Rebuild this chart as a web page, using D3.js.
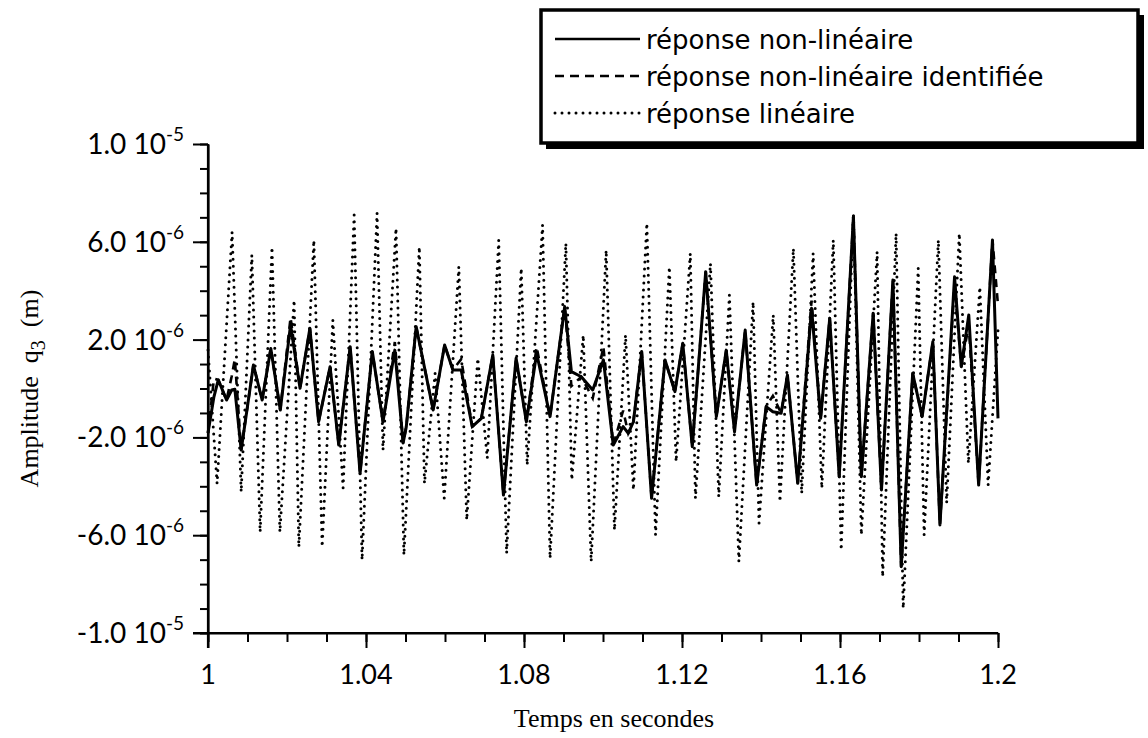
<!DOCTYPE html>
<html>
<head>
<meta charset="utf-8">
<script src="https://cdn.jsdelivr.net/npm/d3@7/dist/d3.min.js"></script>
<style>
  html, body { margin: 0; padding: 0; background: #fff; }
  svg { display: block; }
</style>
</head>
<body>
<svg id="chart" width="1148" height="738"></svg>
<script>
// Time axis (s) and amplitudes of q3, amplitudes in micrometres (1e-6 m)

// linear response: turning points
const tLin = [1.0000, 1.0023, 1.0061, 1.0084, 1.0111, 1.0132, 1.0162, 1.0182, 1.0218, 1.0230,
  1.0268, 1.0289, 1.0316, 1.0342, 1.0370, 1.0390, 1.0428, 1.0443, 1.0476, 1.0496,
  1.0535, 1.0548, 1.0575, 1.0598, 1.0635, 1.0655, 1.0683, 1.0707, 1.0736, 1.0756,
  1.0793, 1.0808, 1.0847, 1.0866, 1.0906, 1.0921, 1.0950, 1.0970, 1.1008, 1.1029,
  1.1057, 1.1077, 1.1111, 1.1133, 1.1168, 1.1185, 1.1221, 1.1234, 1.1272, 1.1293,
  1.1320, 1.1344, 1.1380, 1.1395, 1.1431, 1.1448, 1.1482, 1.1503, 1.1532, 1.1554,
  1.1583, 1.1603, 1.1634, 1.1654, 1.1694, 1.1708, 1.1742, 1.1760, 1.1798, 1.1813,
  1.1849, 1.1870, 1.1902, 1.1925, 1.1954, 1.1975, 1.2000];
const qLin = [1.57, -3.89, 6.40, -4.23, 5.46, -5.87, 5.79, -5.87, 3.62, -6.48,
  6.07, -6.48, 2.80, -4.07, 7.10, -7.01, 7.18, -2.52, 6.56, -6.81,
  5.80, -3.88, 0.63, -4.49, 4.98, -5.38, 1.24, -2.85, 6.07, -6.74,
  4.92, -3.13, 6.69, -6.94, 5.94, -3.74, 2.19, -7.08, 5.66, -5.79,
  2.19, -4.15, 6.76, -5.99, 4.98, -2.99, 5.53, -4.49, 5.12, -4.43,
  3.82, -7.08, 3.55, -5.51, 3.01, -4.63, 5.73, -4.29, 5.53, -4.08,
  6.07, -6.61, 7.17, -5.99, 5.60, -7.70, 6.35, -8.99, 4.92, -5.99,
  6.07, -4.68, 6.35, -3.06, 4.16, -3.95, 2.39];

// non-linear response (and its identified model) share the same time samples
const tNl = [1.0000, 1.0015, 1.0026, 1.0047, 1.0060, 1.0068, 1.0084, 1.0115, 1.0137, 1.0159,
  1.0183, 1.0209, 1.0233, 1.0258, 1.0280, 1.0309, 1.0331, 1.0360, 1.0385, 1.0416,
  1.0443, 1.0473, 1.0494, 1.0502, 1.0527, 1.0570, 1.0599, 1.0620, 1.0641, 1.0669,
  1.0692, 1.0721, 1.0748, 1.0780, 1.0806, 1.0832, 1.0866, 1.0903, 1.0920, 1.0945,
  1.0974, 1.1001, 1.1026, 1.1051, 1.1064, 1.1077, 1.1098, 1.1123, 1.1157, 1.1182,
  1.1202, 1.1226, 1.1260, 1.1287, 1.1312, 1.1333, 1.1360, 1.1389, 1.1413, 1.1430,
  1.1451, 1.1467, 1.1493, 1.1528, 1.1551, 1.1574, 1.1598, 1.1634, 1.1654, 1.1684,
  1.1705, 1.1734, 1.1755, 1.1784, 1.1808, 1.1835, 1.1853, 1.1890, 1.1907, 1.1926,
  1.1951, 1.1986, 1.2000];
const qNl = [-1.82, -0.34, 0.35, -0.47, -0.06, -0.03, -2.52, 0.96, -0.47, 1.64,
  -0.88, 2.60, 0.01, 2.46, -1.36, 0.89, -2.31, 1.71, -3.47, 1.51,
  -1.36, 1.57, -2.23, -1.56, 2.53, -0.88, 1.78, 0.76, 0.76, -1.56,
  -1.22, 1.37, -4.36, 1.24, -1.36, 1.44, -1.15, 3.35, 0.69, 0.48,
  -0.06, 1.17, -2.31, -1.56, -1.83, -1.36, 1.51, -4.49, 1.17, -0.13,
  1.85, -2.38, 4.78, -1.15, 1.57, -1.77, 2.39, -3.95, -0.74, -0.95,
  -1.01, 0.55, -3.88, 3.28, -1.22, 2.87, -3.61, 7.03, -3.61, 3.08,
  -4.15, 4.44, -7.29, 0.62, -1.15, 1.91, -5.58, 4.57, 0.89, 3.01,
  -3.95, 6.07, -1.22];
const qId = [-1.82, 0.40, 0.35, -0.47, 0.50, 1.20, -2.52, 0.96, -0.47, 1.64,
  -0.88, 2.90, 0.01, 2.46, -1.36, 0.89, -2.31, 1.71, -3.47, 1.51,
  -1.36, 1.90, -2.23, -1.56, 2.53, -0.88, 1.78, 0.76, 1.20, -1.56,
  -1.22, 1.37, -4.36, 1.24, -1.36, 1.70, -1.15, 3.35, 0.10, 0.48,
  -0.40, 1.70, -2.31, -0.90, -1.83, -1.36, 1.51, -4.49, 1.17, -0.13,
  1.85, -2.38, 4.78, -1.15, 1.57, -1.77, 2.39, -3.95, -0.74, -0.30,
  -1.01, 0.55, -3.88, 3.60, -1.22, 2.87, -3.61, 7.03, -3.61, 3.08,
  -4.15, 4.44, -7.29, 0.62, -1.15, 1.91, -5.58, 4.30, 0.89, 2.60,
  -3.95, 6.07, 3.40];

// axis ticks
const xTickValues = [1, 1.04, 1.08, 1.12, 1.16, 1.2];
const xTickLabels = ["1", "1.04", "1.08", "1.12", "1.16", "1.2"];
const yTickValues = [-10, -6, -2, 2, 6, 10];
const yTickMantissa = ["-1.0", "-6.0", "-2.0", "2.0", "6.0", "1.0"];
const yTickExponent = ["-5", "-6", "-6", "-6", "-6", "-5"];

const seriesNames = ["réponse non-linéaire", "réponse non-linéaire identifiée", "réponse linéaire"];

const svg = d3.select("#chart");
const x = d3.scaleLinear().domain([1, 1.2]).range([208, 998]);
const y = d3.scaleLinear().domain([-10, 10]).range([633, 144]);

const sans = "Lato, 'Open Sans', sans-serif";
const legendFont = "'DejaVu Sans', Lato, sans-serif";
const serif = "'Liberation Serif', 'DejaVu Serif', serif";

// ---- series ----
const line = d3.line().x(d => x(d[0])).y(d => y(d[1]));
const plot = svg.append("g").attr("fill", "none").attr("stroke", "#000");

plot.append("path")
  .attr("d", line(d3.zip(tLin, qLin)))
  .attr("stroke-width", 3)
  .attr("stroke-linecap", "round")
  .attr("stroke-dasharray", "0,7");

plot.append("path")
  .attr("d", line(d3.zip(tNl, qId)))
  .attr("stroke-width", 2.6)
  .attr("stroke-dasharray", "8,6");

plot.append("path")
  .attr("d", line(d3.zip(tNl, qNl)))
  .attr("stroke-width", 3)
  .attr("stroke-linejoin", "round");

// ---- axes ----
const styleAxis = g => {
  g.select(".domain").attr("stroke", "#000").attr("stroke-width", 2.2);
  g.selectAll(".tick line").attr("stroke", "#000").attr("stroke-width", 2);
};

const xMinor = d3.range(0, 21).map(i => 1 + i * 0.01);
svg.append("g").attr("transform", `translate(0,${y(-10)})`)
  .call(d3.axisBottom(x).tickValues(xMinor).tickSize(9).tickSizeOuter(0).tickFormat(""))
  .call(styleAxis);
svg.append("g").attr("transform", `translate(0,${y(-10)})`)
  .call(d3.axisBottom(x).tickValues(xTickValues).tickSize(15).tickSizeOuter(0).tickFormat(""))
  .call(styleAxis)
  .call(g => g.select(".domain").attr("d", `M${x(1) - 15},0H${x(1.2)}`));

const yMinor = d3.range(-10, 11);
svg.append("g").attr("transform", `translate(${x(1)},0)`)
  .call(d3.axisLeft(y).tickValues(yMinor).tickSize(8).tickSizeOuter(0).tickFormat(""))
  .call(styleAxis);
svg.append("g").attr("transform", `translate(${x(1)},0)`)
  .call(d3.axisLeft(y).tickValues(yTickValues).tickSize(15).tickSizeOuter(0).tickFormat(""))
  .call(styleAxis)
  .call(g => g.select(".domain").attr("d", `M0,${y(10)}V${y(-10) + 15}`));

// x tick labels
svg.append("g").selectAll("text").data(xTickValues).join("text")
  .attr("x", d => x(d))
  .attr("y", y(-10) + 51)
  .attr("text-anchor", "middle")
  .attr("font-family", sans)
  .attr("font-size", 27)
  .text((d, i) => xTickLabels[i]);

// y tick labels with power-of-ten superscripts
const yl = svg.append("g").selectAll("text").data(yTickValues).join("text")
  .attr("x", 184)
  .attr("y", d => y(d) + 10)
  .attr("text-anchor", "end")
  .attr("font-family", sans)
  .attr("font-size", 28);
yl.append("tspan").text((d, i) => yTickMantissa[i] + "\u00a010");
yl.append("tspan").attr("dy", -13).attr("font-size", 19).text((d, i) => yTickExponent[i]);

// axis titles
svg.append("text")
  .attr("x", 614).attr("y", 727)
  .attr("text-anchor", "middle")
  .attr("font-family", serif)
  .attr("font-size", 26)
  .text("Temps en secondes");

const yt = svg.append("text")
  .attr("transform", `translate(38,${y(0)}) rotate(-90)`)
  .attr("text-anchor", "middle")
  .attr("font-family", serif)
  .attr("font-size", 26);
yt.append("tspan").text("Amplitude\u00a0 q");
yt.append("tspan").attr("dy", 7).attr("font-size", 20).text("3");
yt.append("tspan").attr("dy", -7).text("\u00a0\u00a0(m)");

// ---- legend ----
const lg = svg.append("g");
lg.append("rect").attr("x", 546).attr("y", 15).attr("width", 598).attr("height", 134).attr("fill", "#000");
lg.append("rect").attr("x", 541).attr("y", 10).attr("width", 597).attr("height", 133)
  .attr("fill", "#fff").attr("stroke", "#000").attr("stroke-width", 3.5);

const legendY = [39, 76, 113];
const legendDash = [null, "9,6", "0,7"];
const legendWidth = [2.5, 2.5, 3];
seriesNames.forEach((name, i) => {
  lg.append("line")
    .attr("x1", 555).attr("x2", 640)
    .attr("y1", legendY[i]).attr("y2", legendY[i])
    .attr("stroke", "#000").attr("stroke-width", legendWidth[i])
    .attr("stroke-linecap", i === 2 ? "round" : "butt")
    .attr("stroke-dasharray", legendDash[i]);
  lg.append("text")
    .attr("x", 646).attr("y", legendY[i] + 10)
    .attr("font-family", legendFont)
    .attr("font-size", 26)
    .text(name);
});
</script>
</body>
</html>
